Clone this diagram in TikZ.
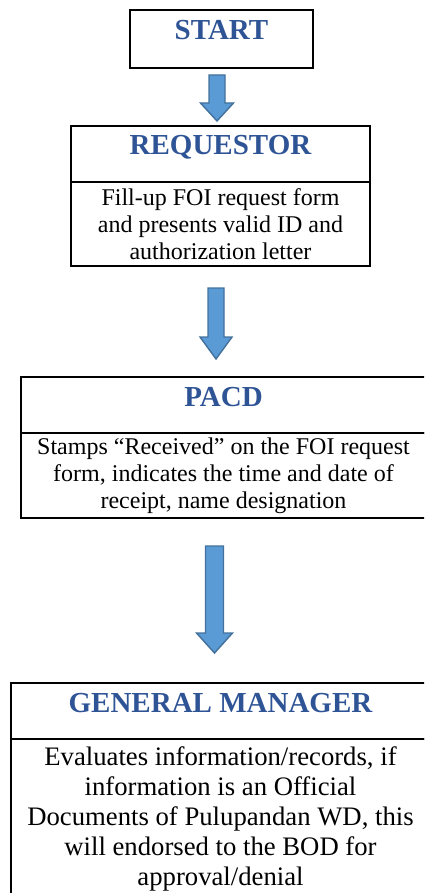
\documentclass[tikz,border=0pt]{standalone}
\usepackage{fontspec}
\setmainfont{Liberation Serif}
\usepackage{xcolor}
\usepackage{tikz}
\usetikzlibrary{positioning}
\usetikzlibrary{calc}

\definecolor{TitleBlue}{HTML}{2F5496}
\definecolor{ArrowFill}{HTML}{5B9BD5}
\definecolor{ArrowEdge}{HTML}{41719C}

\tikzset{
	titlebox/.style={draw, line width=1.8pt, outer sep=0pt, inner ysep=9pt,
		text height=20pt, text depth=18pt, text=TitleBlue,
		font=\fontsize{29}{32}\selectfont\bfseries},
	descbox/.style={draw, line width=1.8pt, outer sep=0pt, inner sep=0pt, align=center,
		font=\fontsize{24}{27}\selectfont},
	blockarrow/.style={fill=ArrowFill, draw=ArrowEdge, line width=1.4pt, line join=miter},
}

% down arrow: #1 top, #2 shaft length, #3 head length, #4 shaft half width, #5 head half width
\newcommand{\downblock}[5]{%
	\draw[blockarrow] ($(#1)+(-#4,0)$) -- ($(#1)+(-#4,-#2)$) -- ($(#1)+(-#5,-#2)$)
		-- ($(#1)+(0,-#2-#3)$) -- ($(#1)+(#5,-#2)$) -- ($(#1)+(#4,-#2)$)
		-- ($(#1)+(#4,0)$) -- cycle;
}

\begin{document}
\begin{tikzpicture}[x=1pt, y=1pt]
	
	% page frame, the two lower boxes run past the right edge
	\clip (0,0) rectangle (424,-893);
	
	%%%%%%%%%%%%%%%%%%%%%%%%%%%%%%%%%%%%%%%%%%%%%%%%%%%%%%%%%%%%%%
	% boxes
	\node[titlebox, minimum width=183pt, minimum height=58pt, anchor=north] (Start) at (221.5,-10) {START};
	
	\node[titlebox, minimum width=299pt, anchor=north] (ReqTitle) at (220.5,-126) {REQUESTOR};
	\node[descbox, minimum width=299pt, minimum height=84pt, below=0pt of ReqTitle] (ReqText)
		{Fill-up FOI request form\\and presents valid ID and\\authorization letter};
	
	\node[titlebox, minimum width=405pt, anchor=north] (PacdTitle) at (223.5,-377) {PACD};
	\node[descbox, minimum width=405pt, minimum height=85pt, below=0pt of PacdTitle] (PacdText)
		{Stamps “Received” on the FOI request\\form, indicates the time and date of\\receipt, name designation};
	
	\node[titlebox, minimum width=419pt, anchor=north] (GmTitle) at (220.5,-683) {GENERAL MANAGER};
	\node[descbox, minimum width=419pt, minimum height=160pt, below=0pt of GmTitle,
		font=\fontsize{26.7}{30}\selectfont] (GmText)
		{Evaluates information/records, if\\information is an Official\\Documents of Pulupandan WD, this\\will endorsed to the BOD for\\approval/denial};
	
	%%%%%%%%%%%%%%%%%%%%%%%%%%%%%%%%%%%%%%%%%%%%%%%%%%%%%%%%%%%%%%
	% arrows between the boxes
	\coordinate (A1Top) at ($(Start.south)+(-4.5,-7)$);
	\coordinate (A2Top) at ($(ReqText.south)+(-4.5,-22)$);
	\coordinate (A3Top) at ($(PacdText.south)+(-9,-28)$);
	
	\downblock{A1Top}{28}{18}{8}{16.5}
	\downblock{A2Top}{49}{22}{8}{16}
	\downblock{A3Top}{87}{20}{9}{18}
	
\end{tikzpicture}
\end{document}
